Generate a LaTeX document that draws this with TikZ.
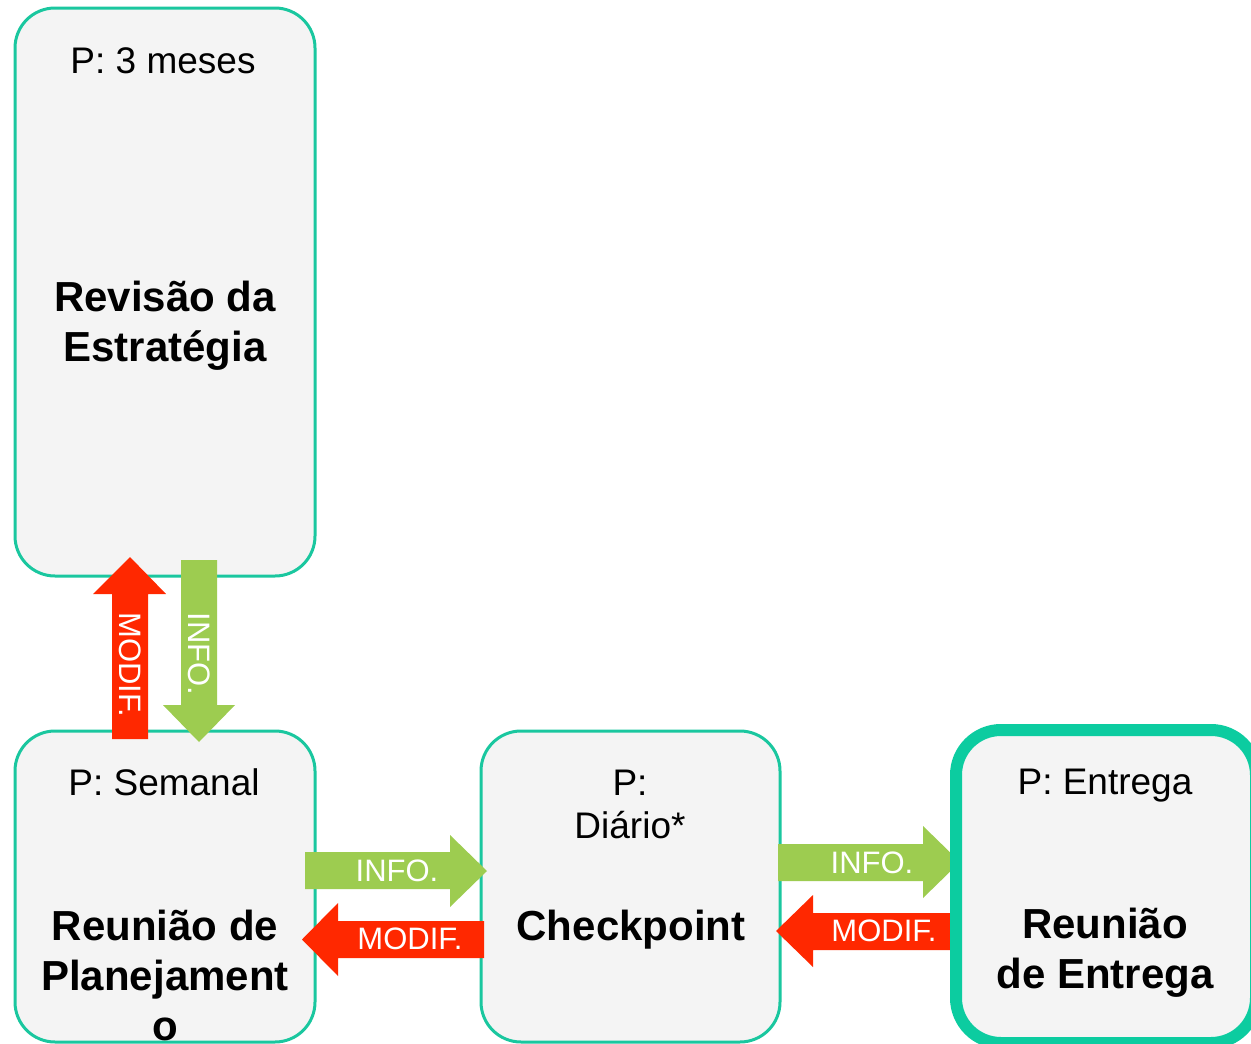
\documentclass[tikz,border=0pt]{standalone}
\usepackage{fontspec}
\setmainfont{Liberation Sans}
\definecolor{boxline}{HTML}{1AC79F}
\definecolor{boxthick}{HTML}{0CCCA0}
\definecolor{boxfill}{HTML}{F4F4F4}
\definecolor{arrgreen}{HTML}{9DCC50}
\definecolor{arrred}{HTML}{FF2800}
\begin{document}
\begin{tikzpicture}[x=1pt,y=-1pt,
  box/.style={draw=boxline, fill=boxfill, line width=3pt, rounded corners=40pt, inner sep=0pt},
  ptext/.style={font=\fontsize{37}{43}\selectfont, align=center, inner sep=0pt, anchor=base},
  btext/.style={font=\fontsize{42}{50}\selectfont\bfseries, align=center, inner sep=0pt, anchor=base},
  atext/.style={text=white, font=\fontsize{31}{31}\selectfont, inner sep=0pt},
  garrow/.style={fill=arrgreen},
  rarrow/.style={fill=arrred}]
\useasboundingbox (0,0) rectangle (1251,1044);
\fill[white] (0,0) rectangle (1251,1044);
% boxes
\node[box, minimum width=300pt, minimum height=568pt] (b1) at (165,292) {};
\node[box, minimum width=300pt, minimum height=311pt] (b2) at (165,886.5) {};
\node[box, minimum width=299pt, minimum height=311pt] (b3) at (630.5,886.5) {};
% arrows
\fill[rarrow] (112,739) -- (112,594) -- (93,594) -- (130,557) -- (166,594) -- (148,594) -- (148,739) -- cycle;
\fill[garrow] (181,560) -- (217,560) -- (217,705) -- (235,705) -- (199,742) -- (163,705) -- (181,705) -- cycle;
\fill[garrow] (305,852) -- (450,852) -- (450,835) -- (487,871) -- (450,907) -- (450,889) -- (305,889) -- cycle;
\fill[rarrow] (484,921) -- (338,921) -- (338,903) -- (302,939.5) -- (338,976) -- (338,958) -- (484,958) -- cycle;
\fill[garrow] (778,844) -- (923,844) -- (923,826) -- (960,862) -- (923,898) -- (923,881) -- (778,881) -- cycle;
\fill[rarrow] (958,913) -- (813,913) -- (813,895) -- (776,931) -- (813,967) -- (813,950) -- (958,950) -- cycle;
\node[box, draw=boxthick, line width=12pt, rounded corners=45pt, minimum width=300pt, minimum height=313pt] (b4) at (1106,886.5) {};
% arrow labels
\node[atext, rotate=-90] (m1) at (130,665) {MODIF.};
\node[atext, rotate=-90] (i1) at (199,654) {INFO.};
\node[atext] (i2) at (397,871) {INFO.};
\node[atext] (m2) at (410,939) {MODIF.};
\node[atext] (i3) at (872,863) {INFO.};
\node[atext] (m3) at (884,931) {MODIF.};
% box texts (base anchor = baseline of last line)
\node[ptext] (p1) at (163,73) {P: 3 meses};
\node[btext] (n1) at (165,361) {Revisão da\\Estratégia};
\node[ptext] (p2) at (164,795) {P: Semanal};
\node[btext] (n2) at (165,1040) {Reunião de\\Planejament\\o};
\node[ptext] (p3) at (630,838) {P:\\Diário*};
\node[btext] (n3) at (631,940) {Checkpoint};
\node[ptext] (p4) at (1105,794) {P: Entrega};
\node[btext] (n4) at (1105,988) {Reunião\\de Entrega};
\end{tikzpicture}
\end{document}
